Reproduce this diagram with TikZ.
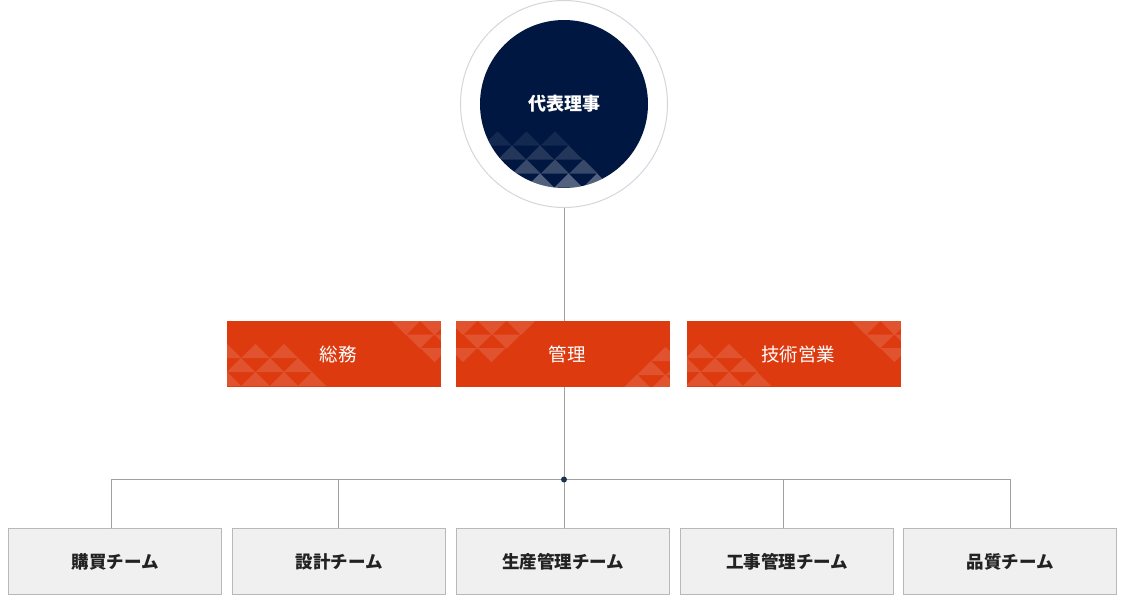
\documentclass[tikz,border=0pt]{standalone}
\usepackage{fontspec}
\newfontfamily\cjk{Noto Sans CJK JP}
\usetikzlibrary{calc}
\definecolor{navy}{HTML}{001741}
\definecolor{orng}{HTML}{DD3A10}
\definecolor{ring}{HTML}{D3D7DD}
\definecolor{conn}{HTML}{A0A0A0}
\definecolor{teamfill}{HTML}{F0F0F0}
\definecolor{teamline}{HTML}{B8B8B8}
\definecolor{txt}{HTML}{222222}
\definecolor{hubc}{HTML}{1A3355}
\newcommand\upT[3]{\fill[white,fill opacity=#3] ({#1-14.25},{#2+14}) -- (#1,#2) -- ({#1+14.25},{#2+14}) -- cycle;}
\newcommand\dnT[3]{\fill[white,fill opacity=#3] ({#1-14.25},#2) -- ({#1+14.25},#2) -- (#1,{#2+14}) -- cycle;}
\tikzset{
  dept/.style={rectangle, fill=orng, minimum width=214pt, minimum height=66pt, inner sep=0pt},
  deptlabel/.style={text=white, font=\cjk\fontsize{18.5}{18.5}\selectfont, inner sep=0pt, xshift=4pt},
  team/.style={rectangle, fill=teamfill, draw=teamline, line width=1pt, minimum width=213pt, minimum height=66pt, inner sep=0pt, text=txt, font=\cjk\bfseries\fontsize{17.5}{17.5}\selectfont},
  conn/.style={draw=conn, line width=1pt}
}
\begin{document}
\begin{tikzpicture}[x=1pt,y=-1pt]
\path[use as bounding box] (0,0) rectangle (1130,597);
\fill[white] (0,0) rectangle (1130,597);

\coordinate (hub) at (564,479.5);

% CEO
\node[circle, draw=ring, line width=1pt, fill=white, minimum size=207pt, inner sep=0pt] (ceo) at (564,104) {};
\node[circle, fill=navy, minimum size=168pt, inner sep=0pt] (ceoin) at (ceo.center) {};
\begin{scope}
\clip (ceo.center) circle (84pt);
\foreach \x in {469,497.5,526.5,555} {\upT{\x}{131.5}{0.08}}
\foreach \x in {483,512,540,568.5} {\upT{\x}{145.5}{0.14}}
\foreach \x in {497.5,526.5,555,583.5} {\upT{\x}{159.5}{0.22}}
\foreach \x in {512,540,568.5,597} {\upT{\x}{173.5}{0.32}}
\end{scope}
\node[text=white, font=\cjk\bfseries\fontsize{18}{18}\selectfont, inner sep=0pt] (ceolabel) at (ceo.center) {代表理事};

% departments
\node[dept] (d1) at (334,354) {};
\node[dept] (d2) at (563,354) {};
\node[dept] (d3) at (794,354) {};
\begin{scope}
\clip (d1.north west) rectangle (d1.south east);
\foreach \x in {227,255.5,284} {\upT{\x}{344}{0.13}}
\foreach \x in {241,270,298} {\upT{\x}{358}{0.13}}
\foreach \x in {227,255.5,284,312} {\upT{\x}{372}{0.13}}
\foreach \x in {406,434.5} {\dnT{\x}{321}{0.13}}
\foreach \x in {420,448.5} {\dnT{\x}{334.5}{0.13}}
\foreach \x in {434.5} {\dnT{\x}{348}{0.13}}
\end{scope}
\begin{scope}
\clip (d2.north west) rectangle (d2.south east);
\foreach \x in {463,492,521} {\dnT{\x}{321}{0.13}}
\foreach \x in {477.5,506.5} {\dnT{\x}{334.5}{0.13}}
\foreach \x in {463,491.5} {\dnT{\x}{348}{0.13}}
\upT{665.5}{347}{0.13}
\upT{651}{361}{0.13}
\upT{680}{361}{0.13}
\upT{637}{374.5}{0.13}
\upT{665.5}{374.5}{0.13}
\end{scope}
\begin{scope}
\clip (d3.north west) rectangle (d3.south east);
\foreach \x in {700,729} {\upT{\x}{344}{0.13}}
\foreach \x in {687,715,744} {\upT{\x}{358}{0.13}}
\foreach \x in {700,729,757} {\upT{\x}{372}{0.13}}
\foreach \x in {866,894.5} {\dnT{\x}{321}{0.13}}
\foreach \x in {880,908.5} {\dnT{\x}{334.5}{0.13}}
\foreach \x in {894.5} {\dnT{\x}{348}{0.13}}
\end{scope}
\node[deptlabel] (d1l) at (d1.center) {総務};
\node[deptlabel] (d2l) at (d2.center) {管理};
\node[deptlabel] (d3l) at (d3.center) {技術営業};

% teams
\node[team] (t1) at (115,561.5) {購買チーム};
\node[team] (t2) at (339,561.5) {設計チーム};
\node[team] (t3) at (563,561.5) {生産管理チーム};
\node[team] (t4) at (787,561.5) {工事管理チーム};
\node[team] (t5) at (1010,561.5) {品質チーム};

% connectors
\draw[conn] (ceo.south) -- (ceo.south |- d2.north);
\draw[conn] (d2.south -| hub) -- (hub);
\draw[conn] ($(t1.north)+(-4,0)$) |- (hub);
\draw[conn] ($(t2.north)+(-1,0)$) |- (hub);
\draw[conn] (t3.north -| hub) -- (hub);
\draw[conn] ($(t4.north)+(-4,0)$) |- (hub);
\draw[conn] (t5.north) |- (hub);
\fill[hubc] (hub) circle (3pt);
\end{tikzpicture}
\end{document}
